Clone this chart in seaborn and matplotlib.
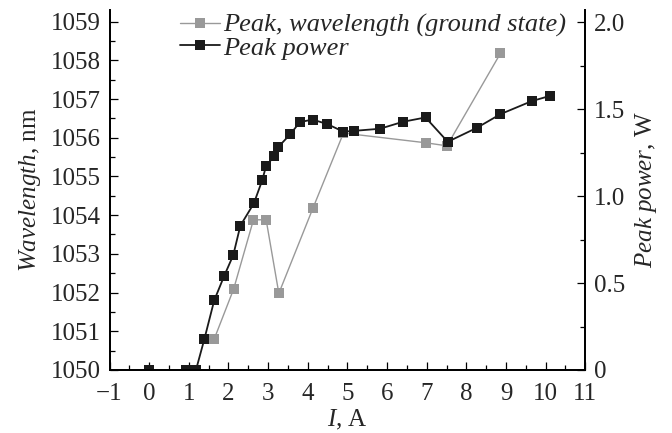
import matplotlib
matplotlib.use("Agg")
import matplotlib.pyplot as plt
from matplotlib.lines import Line2D
from matplotlib.ticker import FixedFormatter, FixedLocator, MultipleLocator
import seaborn as sns

# Peak wavelength (ground state), left axis
wl_current = [1.64, 2.13, 2.63, 2.95, 3.27, 4.13, 4.90, 6.97, 7.51, 8.86]
wl_nm = [1050.80, 1052.09, 1053.88, 1053.88, 1051.98, 1054.18, 1056.12,
         1055.87, 1055.79, 1058.18]

# Peak power, right axis
pw_current = [0.0, 0.92, 1.05, 1.18, 1.39, 1.64, 1.89, 2.12, 2.30, 2.64, 2.85,
              2.95, 3.16, 3.26, 3.56, 3.80, 4.12, 4.49, 4.90, 5.17, 5.82,
              6.40, 6.97, 7.53, 8.27, 8.86, 9.65, 10.11]
pw_watt = [0.0, 0.0, 0.0, 0.0, 0.176, 0.40, 0.54, 0.66, 0.83, 0.958, 1.09,
           1.174, 1.23, 1.283, 1.356, 1.425, 1.44, 1.414, 1.37, 1.375, 1.387,
           1.427, 1.452, 1.312, 1.393, 1.471, 1.546, 1.576]

x_ticks = list(range(-1, 12))
left_ticks = list(range(1050, 1060))
right_ticks = [0, 0.5, 1.0, 1.5, 2.0]
right_labels = ["0", "0.5", "1.0", "1.5", "2.0"]

GRAY = "#999999"
BLACK = "#1a1a1a"
FS = 18

sns.set_style("ticks")
plt.rcParams["font.family"] = ["Liberation Serif", "DejaVu Serif"]
plt.rcParams["mathtext.fontset"] = "custom"
plt.rcParams["mathtext.it"] = "Liberation Serif:italic"
plt.rcParams["mathtext.rm"] = "Liberation Serif"
plt.rcParams["font.size"] = FS

fig = plt.figure(figsize=(6.72, 4.33), dpi=100)
ax = fig.add_axes([0.163, 0.1455, 0.708, 0.8315])
ax2 = ax.twinx()

sns.lineplot(x=wl_current, y=wl_nm, ax=ax, color=GRAY, marker="s",
             markersize=6.5, markeredgewidth=0, linewidth=1.0)
sns.lineplot(x=pw_current, y=pw_watt, ax=ax2, color=BLACK, marker="s",
             markersize=7.3, markeredgewidth=0, linewidth=1.3)

ax.set_xlim(-1, 11)
ax.set_ylim(1050, 1059.3)
ax2.set_ylim(0, 2.07)

ax.xaxis.set_major_locator(FixedLocator(x_ticks))
ax.xaxis.set_minor_locator(MultipleLocator(0.5))
ax.yaxis.set_major_locator(FixedLocator(left_ticks))
ax.yaxis.set_minor_locator(MultipleLocator(0.5))
ax2.yaxis.set_major_locator(FixedLocator(right_ticks))
ax2.yaxis.set_major_formatter(FixedFormatter(right_labels))
ax2.yaxis.set_minor_locator(MultipleLocator(0.25))

for a in (ax, ax2):
    a.tick_params(which="major", direction="in", length=6, width=0.9,
                  labelsize=FS, pad=6, color="black")
    a.tick_params(which="minor", direction="in", length=3.5, width=0.9,
                  color="black")
    for side in ("left", "right", "bottom"):
        a.spines[side].set_linewidth(1.3)
        a.spines[side].set_color("black")
    a.spines["top"].set_visible(False)
ax.tick_params(axis="x", which="major", pad=9.5)

ax.set_xlabel(r"$\mathit{I}$, A", fontsize=FS, labelpad=2)
ax.set_ylabel(r"$\mathit{Wavelength}$, nm", fontsize=FS, labelpad=6)
ax2.set_ylabel(r"$\mathit{Peak\ power}$, W", fontsize=FS, labelpad=6)

handles = [
    Line2D([], [], color=GRAY, marker="s", markersize=6.5,
           markeredgewidth=0, linewidth=1.0),
    Line2D([], [], color=BLACK, marker="s", markersize=7.3,
           markeredgewidth=0, linewidth=1.3),
]
labels = ["Peak, wavelength (ground state)", "Peak power"]
leg = ax2.legend(handles, labels, loc="upper left",
                 bbox_to_anchor=(0.149, 0.99), frameon=False,
                 prop={"family": "Liberation Serif", "style": "italic",
                       "size": 19},
                 handlelength=1.5, handletextpad=0.12, labelspacing=-0.05,
                 borderpad=0, borderaxespad=0)

fig.savefig("out.png", dpi=100)
